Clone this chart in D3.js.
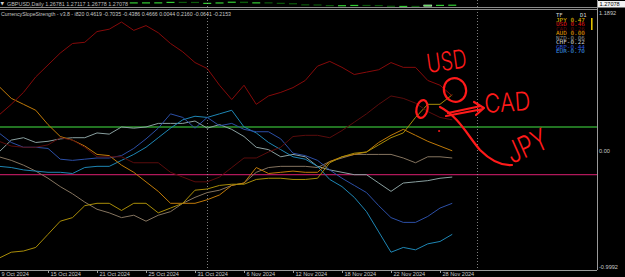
<!DOCTYPE html>
<html>
<head>
<meta charset="utf-8">
<script src="https://cdn.jsdelivr.net/npm/d3@7"></script>
<style>
html, body { margin: 0; padding: 0; background: #000; }
svg { display: block; }
</style>
</head>
<body>
<svg id="chart"></svg>
<script>
// D1 bars on screen (trading days)
const dates = ['9 Oct 2024', '10 Oct 2024', '11 Oct 2024', '14 Oct 2024', '15 Oct 2024', '16 Oct 2024',
    '17 Oct 2024', '18 Oct 2024', '21 Oct 2024', '22 Oct 2024', '23 Oct 2024', '24 Oct 2024', '25 Oct 2024',
    '28 Oct 2024', '29 Oct 2024', '30 Oct 2024', '31 Oct 2024', '1 Nov 2024', '4 Nov 2024', '5 Nov 2024',
    '6 Nov 2024', '7 Nov 2024', '8 Nov 2024', '11 Nov 2024', '12 Nov 2024', '13 Nov 2024', '14 Nov 2024',
    '15 Nov 2024', '18 Nov 2024', '19 Nov 2024', '20 Nov 2024', '21 Nov 2024', '22 Nov 2024', '25 Nov 2024',
    '26 Nov 2024', '27 Nov 2024', '28 Nov 2024', '29 Nov 2024']
const tickLabels = ['9 Oct 2024', '15 Oct 2024', '21 Oct 2024', '25 Oct 2024', '31 Oct 2024',
    '6 Nov 2024', '12 Nov 2024', '18 Nov 2024', '22 Nov 2024', '28 Nov 2024']

// currency slope strength per bar
const usd = [0.30, 0.39, 0.49, 0.62, 0.72, 0.82, 0.90, 0.91, 1.00, 1.02, 1.08, 1.01, 1.05, 0.99, 0.90, 0.83, 0.74, 0.69,
    0.55, 0.43, 0.55, 0.39, 0.46, 0.49, 0.53, 0.59, 0.71, 0.75, 0.70, 0.64, 0.66, 0.68, 0.74, 0.70, 0.70, 0.59, 0.55, 0.46]
const cad = [0.08, 0.04, 0.03, 0.03, 0.05, 0.11, 0.09, 0.03, -0.05, -0.05, -0.05, -0.10, -0.10, -0.10, -0.18, -0.22, -0.26, -0.26,
    -0.22, -0.14, -0.06, -0.06, -0.01, 0.03, 0.12, 0.13, 0.13, 0.11, 0.17, 0.24, 0.31, 0.39, 0.46, 0.44, 0.40, 0.33, 0.28, 0.26]
const jpy = [-0.90, -0.85, -0.84, -0.81, -0.70, -0.59, -0.56, -0.46, -0.44, -0.44, -0.50, -0.44, -0.44, -0.52, -0.48, -0.44, -0.33, -0.32,
    -0.29, -0.28, -0.28, -0.24, -0.23, -0.23, -0.24, -0.24, -0.23, -0.10, -0.05, -0.02, -0.01, 0.05, 0.11, 0.15, 0.28, 0.39, 0.39, 0.47]
const aud = [0.54, 0.44, 0.39, 0.34, 0.22, 0.12, 0.09, 0.04, -0.03, -0.04, -0.12, -0.18, -0.26, -0.34, -0.44, -0.44, -0.44, -0.41,
    -0.37, -0.29, -0.27, -0.14, -0.19, -0.18, -0.17, -0.18, -0.18, -0.09, -0.05, -0.03, -0.01, 0.07, 0.13, 0.18, 0.13, 0.08, 0.04, 0.00]
const nzd = [-0.05, -0.08, -0.12, -0.17, -0.23, -0.30, -0.36, -0.43, -0.49, -0.52, -0.56, -0.54, -0.59, -0.54, -0.51, -0.44, -0.39, -0.35,
    -0.33, -0.29, -0.27, -0.18, -0.14, -0.13, -0.13, -0.13, -0.14, -0.09, -0.06, -0.03, -0.03, -0.03, -0.03, -0.06, -0.10, -0.05, -0.05, -0.06]
const chf = [-0.01, 0.09, 0.11, 0.07, 0.08, 0.10, 0.11, 0.11, 0.15, 0.14, 0.20, 0.19, 0.20, 0.23, 0.23, 0.23, 0.25, 0.19,
    0.22, 0.18, 0.12, 0.03, 0.01, -0.05, -0.03, -0.05, -0.13, -0.16, -0.18, -0.20, -0.20, -0.27, -0.34, -0.27, -0.26, -0.25, -0.23, -0.22]
const gbp = [0.15, 0.07, 0.03, 0.03, 0.02, -0.07, -0.08, -0.07, -0.06, -0.06, -0.04, 0.02, 0.10, 0.19, 0.31, 0.28, 0.19, 0.28,
    0.21, 0.23, 0.18, 0.16, 0.16, 0.10, -0.02, -0.04, -0.08, -0.16, -0.23, -0.29, -0.35, -0.46, -0.56, -0.60, -0.60, -0.55, -0.48, -0.44]
const eur = [-0.13, -0.14, -0.16, -0.17, -0.18, -0.18, -0.19, -0.14, -0.13, -0.13, -0.08, -0.03, 0.03, 0.11, 0.19, 0.26, 0.29, 0.28,
    0.31, 0.34, 0.20, 0.15, 0.07, 0.01, -0.05, -0.07, -0.13, -0.24, -0.30, -0.39, -0.51, -0.68, -0.85, -0.81, -0.83, -0.78, -0.76, -0.70]

// legend (sorted by strength) and indicator header values
const legendNames = ['JPY', 'USD', 'CAD', 'AUD', 'NZD', 'CHF', 'GBP', 'EUR']
const legendValues = [0.47, 0.46, 0.26, 0.00, -0.06, -0.22, -0.44, -0.70]
const headerValues = [0.4619, -0.7035, -0.4386, 0.4666, 0.0044, 0.2160, -0.0641, -0.2153]
const levels = [0.2, -0.2]
const scaleLabels = [1.1892, 0, -0.9992]

// GBPUSD price window (only its bottom strip is visible)
const ohlc = [1.26781, 1.27117, 1.26778, 1.27078]
const gbpClose = [1.3075, 1.3068, 1.3069, 1.3055, 1.3070, 1.3003, 1.2990, 1.3049, 1.2993, 1.2977, 1.2918, 1.2966, 1.2967,
    1.2970, 1.3021, 1.3015, 1.2897, 1.2913, 1.2960, 1.3040, 1.2880, 1.2970, 1.2918, 1.2873, 1.2750, 1.2735, 1.2667, 1.2617,
    1.2654, 1.2681, 1.2670, 1.2589, 1.2532, 1.2570, 1.2533, 1.2668, 1.2690, 1.2708]

const W = 625, H = 277
const axisX = 597
const plotTop = 9, plotBottom = 270

let svg = d3.select('#chart')
    .attr('width', W)
    .attr('height', H)
    .style('background', '#000')

let x = d3.scaleLinear().domain([0, 48]).range([-1, -1 + 48 * 12.25])
let y = d3.scaleLinear().domain([-0.9992, 1.1892]).range([plotBottom, plotTop])
let py = d3.scaleLinear().domain([1.25, 1.30]).range([6.5, 2])

svg.append('clipPath').attr('id', 'plot')
    .append('rect').attr('x', 0).attr('y', plotTop).attr('width', axisX).attr('height', plotBottom - plotTop)
svg.append('clipPath').attr('id', 'price')
    .append('rect').attr('x', 0).attr('y', 0).attr('width', axisX).attr('height', 7.5)

// price candles squeezed into the top strip
svg.append('g').attr('clip-path', 'url(#price)')
    .selectAll('rect')
    .data(gbpClose)
    .enter()
    .append('rect')
    .attr('x', (d, i) => x(i) - 4)
    .attr('width', 8)
    .attr('y', (d, i) => Math.min(py(d), py(i ? gbpClose[i - 1] : d)))
    .attr('height', (d, i) => Math.max(1.2, Math.abs(py(d) - py(i ? gbpClose[i - 1] : d))))
    .attr('fill', (d, i) => (i && d < gbpClose[i - 1]) ? '#0b5a0b' : '#33cc33')
    .attr('stroke', (d, i) => (i && d >= gbpClose[i - 1] && i % 5 == 0) ? '#ccffcc' : 'none')
    .attr('stroke-width', 0.6)

// window separators
svg.append('line').attr('x1', 0).attr('x2', axisX).attr('y1', 7.5).attr('y2', 7.5)
    .attr('stroke', '#8a8a8a').attr('stroke-width', 1)
svg.append('line').attr('x1', 0).attr('x2', axisX).attr('y1', 9.5).attr('y2', 9.5)
    .attr('stroke', '#8a8a8a').attr('stroke-width', 1)

// level lines
svg.selectAll('.level')
    .data(levels)
    .enter()
    .append('line')
    .attr('x1', 0).attr('x2', axisX)
    .attr('y1', d => y(d)).attr('y2', d => y(d))
    .attr('stroke', d => d > 0 ? '#2e9a2e' : '#b0185a')
    .attr('stroke-width', 1.3)

// period separators
svg.selectAll('.sep')
    .data([17, 39])
    .enter()
    .append('line')
    .attr('x1', d => Math.round(x(d)) + 0.5).attr('x2', d => Math.round(x(d)) + 0.5)
    .attr('y1', 0).attr('y2', plotBottom)
    .attr('stroke', '#a0a0a0')
    .attr('stroke-dasharray', '1,2')
    .attr('stroke-width', 0.8)

let series = [
    { name: 'NZD', values: nzd, color: '#85745f' },
    { name: 'CHF', values: chf, color: '#8aa0a0' },
    { name: 'EUR', values: eur, color: '#1e86b4' },
    { name: 'GBP', values: gbp, color: '#2c4fa6' },
    { name: 'AUD', values: aud, color: '#c07a08' },
    { name: 'JPY', values: jpy, color: '#a88c08' },
    { name: 'CAD', values: cad, color: '#5a0c0c' },
    { name: 'USD', values: usd, color: '#860a0a' }
]

let line = d3.line()
    .x((d, i) => x(i))
    .y(d => y(d))

svg.append('g').attr('clip-path', 'url(#plot)')
    .selectAll('path')
    .data(series)
    .enter()
    .append('path')
    .attr('d', d => line(d.values))
    .attr('fill', 'none')
    .attr('stroke', d => d.color)
    .attr('stroke-width', 1)

// bottom time axis
let xAxis = d3.axisBottom(x)
    .tickValues(tickLabels.map(t => dates.indexOf(t)))
    .tickFormat(i => dates[i])
    .tickSizeInner(3)
    .tickSizeOuter(0)

let gx = svg.append('g')
    .attr('transform', 'translate(0,' + plotBottom + ')')
    .call(xAxis)
gx.select('.domain').remove()
gx.selectAll('line').attr('stroke', '#9a9a9a')
gx.selectAll('text')
    .attr('fill', '#c8c8c8')
    .attr('font-family', 'Liberation Sans, Arial, sans-serif')
    .attr('font-size', 5.6)
    .attr('text-anchor', 'start')
    .attr('x', 2)
    .attr('y', 2.2)
svg.append('line').attr('x1', 0).attr('x2', axisX).attr('y1', plotBottom + 0.5).attr('y2', plotBottom + 0.5)
    .attr('stroke', '#9a9a9a')

// right price scale
svg.append('line').attr('x1', axisX + 0.5).attr('x2', axisX + 0.5).attr('y1', 0).attr('y2', plotBottom)
    .attr('stroke', '#9a9a9a')

let yAxis = d3.axisRight(y)
    .tickValues(scaleLabels)
    .tickFormat(d => d == 0 ? '0.00' : String(d))
    .tickSize(0)
let gy = svg.append('g')
    .attr('transform', 'translate(' + (axisX + 1) + ',0)')
    .call(yAxis)
gy.select('.domain').remove()
gy.selectAll('text')
    .attr('fill', '#c8c8c8')
    .attr('font-family', 'Liberation Sans, Arial, sans-serif')
    .attr('font-size', 5.6)
    .attr('x', 1)
    .attr('dy', d => d > 1 ? '0.95em' : d < -0.9 ? '-0.25em' : '0.32em')

svg.append('rect').attr('x', axisX + 1).attr('y', 1).attr('width', 27).attr('height', 6.5).attr('fill', '#f2f2f2')
svg.append('text').attr('x', axisX + 2.5).attr('y', 6.3)
    .attr('font-family', 'Liberation Sans, Arial, sans-serif').attr('font-size', 5.6).attr('fill', '#000')
    .text(ohlc[3].toFixed(5))

// window captions (price caption sits on its own black strip)
svg.append('rect').attr('x', 0).attr('y', 0).attr('width', 129).attr('height', 7).attr('fill', '#000')
svg.append('text').attr('x', 0.5).attr('y', 5.2)
    .attr('font-family', 'DejaVu Sans, sans-serif').attr('font-size', 4.5).attr('fill', '#d0d0d0')
    .text('▼')
svg.append('text').attr('x', 7).attr('y', 5.6)
    .attr('font-family', 'Liberation Sans, Arial, sans-serif').attr('font-size', 5.6).attr('fill', '#bdbdbd')
    .attr('textLength', 121).attr('lengthAdjust', 'spacingAndGlyphs')
    .text('GBPUSD,Daily  ' + ohlc.map(v => v.toFixed(5)).join(' '))
svg.append('text').attr('x', 1).attr('y', 16.2)
    .attr('font-family', 'Liberation Sans, Arial, sans-serif').attr('font-size', 5.6).attr('fill', '#c8c8c8')
    .attr('textLength', 230).attr('lengthAdjust', 'spacingAndGlyphs')
    .text('CurrencySlopeStrength - v3.8 - i820 ' + headerValues.map(v => v.toFixed(4)).join(' '))

// strength table
let legendColors = ['#e2be00', '#e01515', '#5c0a0a', '#e49a00', '#8c8c8c', '#cfcfcf', '#2f55dc', '#3a92e2']
let legend = svg.append('g')
    .attr('font-family', 'DejaVu Sans Mono, monospace')
    .attr('font-size', 5.6)
legend.append('text').attr('x', 556).attr('y', 16.5).attr('fill', '#d8d8d8').text('TF')
legend.append('text').attr('x', 580).attr('y', 16.5).attr('fill', '#d8d8d8').text('D1')
legend.selectAll('.row')
    .data(legendNames)
    .enter()
    .append('text')
    .attr('x', 556)
    .attr('y', (d, i) => 22 + i * 4.45)
    .attr('fill', (d, i) => legendColors[i])
    .attr('textLength', 29)
    .attr('lengthAdjust', 'spacingAndGlyphs')
    .text((d, i) => d + (legendValues[i] < 0 ? '' : ' ') + legendValues[i].toFixed(2))
svg.append('rect').attr('x', 591).attr('y', 18).attr('width', 1.6).attr('height', 12).attr('fill', '#e2c000')

// hand-drawn notes on the screenshot
let ink = svg.append('g')
    .attr('fill', 'none')
    .attr('stroke', '#ff1a1a')
    .attr('stroke-width', 2.2)
    .attr('stroke-linecap', 'round')
    .attr('stroke-linejoin', 'round')
ink.append('ellipse').attr('cx', 455).attr('cy', 90).attr('rx', 11).attr('ry', 12).attr('transform', 'rotate(-20 455 90)')
ink.append('ellipse').attr('cx', 422).attr('cy', 109).attr('rx', 5.5).attr('ry', 9).attr('transform', 'rotate(12 422 109)')
ink.append('path').attr('d', 'M446,116 L483,109 M448,113 L481,106 M474,102 L484,108 L476,115')
ink.append('path').attr('d', 'M440,107 C458,116 468,136 480,150 C490,160 500,166 512,165')
ink.append('circle').attr('cx', 439).attr('cy', 131).attr('r', 0.6).attr('stroke-width', 1)

let notes = svg.append('g')
    .attr('fill', '#ff1a1a')
    .attr('font-family', 'Inter, Lato, sans-serif')
    .attr('font-weight', 300)
notes.append('text').attr('x', 428).attr('y', 73).attr('font-size', 26)
    .attr('textLength', 40).attr('lengthAdjust', 'spacingAndGlyphs')
    .attr('transform', 'rotate(-8 428 73)').text('USD')
notes.append('text').attr('x', 485).attr('y', 113).attr('font-size', 26)
    .attr('textLength', 46).attr('lengthAdjust', 'spacingAndGlyphs')
    .attr('transform', 'rotate(-4 485 113)').text('CAD')
notes.append('text').attr('x', 512).attr('y', 164).attr('font-size', 30)
    .attr('textLength', 42).attr('lengthAdjust', 'spacingAndGlyphs')
    .attr('transform', 'rotate(-24 512 164)').text('JPY')
</script>
</body>
</html>
